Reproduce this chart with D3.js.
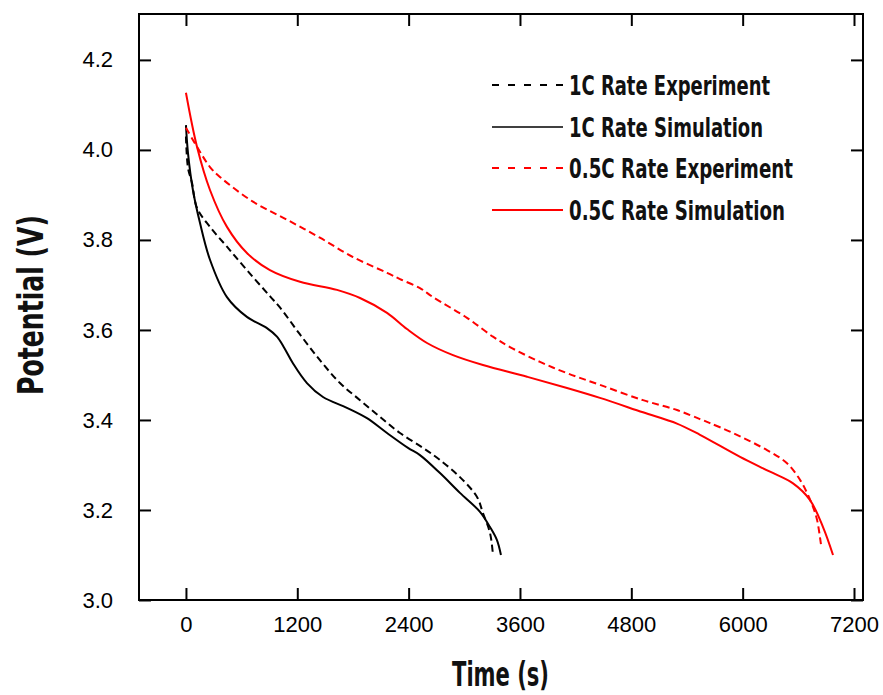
<!DOCTYPE html>
<html>
<head>
<meta charset="utf-8">
<script src="https://cdn.jsdelivr.net/npm/d3@7"></script>
<style>
  html, body { margin: 0; padding: 0; background: #fff; }
  svg { display: block; }
</style>
</head>
<body>
<svg id="chart" width="883" height="695"></svg>
<script>
// ---- Data (time in s, potential in V) ----
const exp1C_t = [0, 22, 65, 119, 259, 442, 657, 905, 1013, 1229, 1444, 1660, 1876, 2091, 2307, 2555, 2738, 2953, 3137, 3201, 3277, 3309];
const exp1C_v = [4.03, 3.96, 3.927, 3.871, 3.829, 3.785, 3.733, 3.675, 3.650, 3.590, 3.533, 3.482, 3.444, 3.407, 3.371, 3.338, 3.311, 3.273, 3.229, 3.193, 3.149, 3.10];

const sim1C_t = [0, 22, 75, 151, 259, 442, 657, 873, 981, 1060, 1153, 1304, 1477, 1735, 1951, 2167, 2393, 2522, 2738, 2953, 3169, 3277, 3352, 3395];
const sim1C_v = [4.055, 3.993, 3.911, 3.838, 3.756, 3.673, 3.629, 3.604, 3.585, 3.560, 3.526, 3.482, 3.451, 3.427, 3.404, 3.371, 3.338, 3.322, 3.282, 3.238, 3.196, 3.162, 3.133, 3.10];

const exp05C_t = [0, 151, 259, 366, 722, 1089, 1444, 1800, 2167, 2307, 2522, 2662, 3029, 3309, 3492, 3816, 4107, 4462, 4926, 5292, 5540, 5648, 5896, 6262, 6478, 6618, 6694, 6758, 6802, 6845];
const exp05C_v = [4.049, 3.996, 3.962, 3.940, 3.885, 3.845, 3.805, 3.762, 3.727, 3.713, 3.693, 3.673, 3.627, 3.585, 3.562, 3.529, 3.504, 3.478, 3.444, 3.422, 3.402, 3.393, 3.371, 3.333, 3.304, 3.267, 3.238, 3.207, 3.178, 3.122];

const sim05C_t = [0, 119, 259, 442, 657, 905, 1229, 1628, 1876, 2167, 2382, 2598, 2878, 3201, 3676, 4107, 4462, 4926, 5292, 5540, 5972, 6295, 6543, 6726, 6866, 6974];
const sim05C_v = [4.127, 4.007, 3.911, 3.829, 3.771, 3.733, 3.707, 3.689, 3.671, 3.638, 3.602, 3.571, 3.544, 3.522, 3.496, 3.471, 3.449, 3.417, 3.392, 3.367, 3.318, 3.285, 3.259, 3.222, 3.162, 3.10];

const xTicks = [0, 1200, 2400, 3600, 4800, 6000, 7200];
const yTicks = [3.0, 3.2, 3.4, 3.6, 3.8, 4.0, 4.2];
const seriesNames = ["1C Rate Experiment", "1C Rate Simulation", "0.5C Rate Experiment", "0.5C Rate Simulation"];
const seriesColors = ["#000000", "#000000", "#ff0000", "#ff0000"];
const seriesDashed = [true, false, true, false];

// ---- Layout ----
const svg = d3.select("#chart");
const L = 139, R = 863, T = 14, B = 600;
const x = d3.scaleLinear().domain([-506, 7297]).range([L, R]);
const y = d3.scaleLinear().domain([3.0, 4.302]).range([B, T]);

const tickFont = "'Liberation Sans', Arial, sans-serif";
const condFont = "'Liberation Sans Narrow', 'DejaVu Sans Condensed', 'Roboto', sans-serif";

// Axes (ticks inward)
const gB = svg.append("g").attr("transform", `translate(0,${B})`)
  .call(d3.axisBottom(x).tickValues(xTicks).tickSizeInner(-12).tickSizeOuter(0).tickFormat(d3.format("d")));
const gT = svg.append("g").attr("transform", `translate(0,${T})`)
  .call(d3.axisTop(x).tickValues(xTicks).tickSizeInner(-12).tickSizeOuter(0).tickFormat(""));
const gL = svg.append("g").attr("transform", `translate(${L},0)`)
  .call(d3.axisLeft(y).tickValues(yTicks).tickSizeInner(-12).tickSizeOuter(0).tickPadding(26).tickFormat(d3.format(".1f")));
const gR = svg.append("g").attr("transform", `translate(${R},0)`)
  .call(d3.axisRight(y).tickValues(yTicks).tickSizeInner(-12).tickSizeOuter(0).tickFormat(""));

[gB, gT, gL, gR].forEach(g => {
  g.select(".domain").remove();
  g.selectAll(".tick line").attr("stroke", "#000").attr("stroke-width", 2);
  g.selectAll(".tick text").attr("font-family", tickFont).attr("font-size", 22).attr("fill", "#000");
});
gB.selectAll(".tick text").attr("dy", "0.71em").attr("y", 16);

// Frame
svg.append("rect").attr("x", L).attr("y", T).attr("width", R - L).attr("height", B - T)
  .attr("fill", "none").attr("stroke", "#000").attr("stroke-width", 2);

// Lines
const allT = [exp1C_t, sim1C_t, exp05C_t, sim05C_t];
const allV = [exp1C_v, sim1C_v, exp05C_v, sim05C_v];
const line = d3.line().x(d => x(d[0])).y(d => y(d[1])).curve(d3.curveCatmullRom.alpha(0.5));
allT.forEach((ts, i) => {
  const pts = ts.map((t, j) => [t, allV[i][j]]);
  svg.append("path").datum(pts)
    .attr("d", line)
    .attr("fill", "none")
    .attr("stroke", seriesColors[i])
    .attr("stroke-width", 2)
    .attr("stroke-dasharray", seriesDashed[i] ? "7,4" : null);
});

// Legend
const legY = [85, 127, 168, 210];
const legW = [201, 194, 224, 216];
seriesNames.forEach((name, i) => {
  svg.append("line").attr("x1", 492).attr("x2", 563).attr("y1", legY[i]).attr("y2", legY[i])
    .attr("stroke", seriesColors[i]).attr("stroke-width", i === 1 ? 1.3 : 2)
    .attr("stroke-dasharray", seriesDashed[i] ? "7,9" : null);
  svg.append("text").attr("x", 569).attr("y", legY[i] + 10)
    .attr("font-family", condFont).attr("font-weight", "bold").attr("font-size", 27)
    .attr("textLength", legW[i]).attr("lengthAdjust", "spacingAndGlyphs")
    .attr("fill", "#111").text(name);
});

// Axis titles
svg.append("text").attr("x", 452).attr("y", 686)
  .attr("font-family", condFont).attr("font-weight", "bold").attr("font-size", 34)
  .attr("textLength", 97).attr("lengthAdjust", "spacingAndGlyphs")
  .attr("fill", "#111").text("Time (s)");
svg.append("text").attr("transform", "translate(43,395) rotate(-90)")
  .attr("font-family", condFont).attr("font-weight", "bold").attr("font-size", 36)
  .attr("textLength", 180).attr("lengthAdjust", "spacingAndGlyphs")
  .attr("fill", "#111").text("Potential (V)");
</script>
</body>
</html>
